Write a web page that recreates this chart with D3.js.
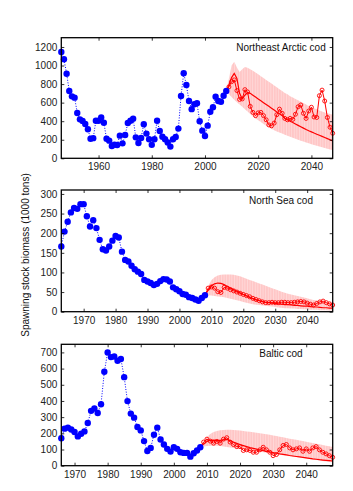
<!DOCTYPE html>
<html lang="en">
<head>
    <meta charset="UTF-8">
    <script src="https://cdn.jsdelivr.net/npm/d3@7"></script>
    <title>Cod spawning stock biomass</title>
    <style>
        body { margin: 0; background: #fff; }
        text { font-family: 'Liberation Sans', Arial, sans-serif; }
        .tick text { font-size: 10px; fill: #222; }
        .tick line { stroke: #000; stroke-width: 0.8; }
    </style>
</head>
<body>
<script>
    const width = 353, height = 491;

    // ---- Northeast Arctic cod ----
    const neaHistStart = 1946;
    const neaHist = [1146,1067,912,725,668,654,488,420,403,370,313,210,217,405,405,440,383,210,190,133,
        147,143,244,161,251,381,405,427,226,165,220,367,266,206,145,206,405,294,233,206,
        170,126,206,230,320,671,916,790,617,530,583,593,400,298,240,352,502,550,664,617,
        610,675,725];
    const neaProj = [725,770,826,845,730,635,640,740,715,560,495,460,490,495,460,415,360,350,380,470,
        530,485,430,415,430,420,475,555,575,485,430,510,550,445,440,675,735,617,440,335,270];
    const neaMedian = [725,790,870,915,860,700,640,680,710,700,680,660,640,620,600,580,560,540,520,500,
        480,460,430,415,400,385,370,355,340,325,310,297,285,272,260,248,236,224,212,200,188];
    const neaUpper = [725,860,1000,1040,980,930,960,985,975,960,945,925,905,885,865,845,825,805,785,765,
        745,725,705,690,670,655,640,625,610,595,580,565,550,540,528,515,505,495,485,478,470];
    const neaLower = [725,690,660,630,605,580,555,530,505,478,450,430,410,390,370,352,335,318,302,290,
        278,266,255,244,233,222,211,200,190,180,170,161,152,143,135,127,120,112,104,96,89];

    // ---- North Sea cod ----
    const nsHistStart = 1963;
    const nsHist = [166,204,229,253,264,262,274,274,243,217,233,213,183,159,156,166,181,193,189,153,
        132,128,117,108,102,96,81,77,73,68,71,78,83,82,77,62,57,52,45,43,
        37,35,31,28,35,42];
    const nsProj = [42,60,63,60,51,49,62,60,56,53,50,47,44,41,38,34,31,28,25,23,
        23,24,23,23,24,24,23,23,24,25,26,25,22,19,17,21,25,27,23,20,17];
    const nsMedian = [42,55,66,71,73,72,69,64,60,56,52,48,44,40,36,33,30,28,26,24,
        23,22,21,20,19,18,18,17,16,16,15,14,14,13,12,12,11,10,10,9,9];
    const nsUpper = [42,65,80,88,92,94,95,95,95,94,92,90,87,84,81,78,75,72,69,66,
        63,60,57,54,51,48,46,44,42,40,38,36,34,32,30,29,27,26,24,23,22];
    const nsLower = [42,42,41,40,39,38,37,35,33,31,29,27,25,23,21,19,18,17,16,15,
        14,13,12,11,10,9,9,8,8,7,7,6,6,5,5,5,4,4,4,3,3];

    // ---- Baltic cod ----
    const balHistStart = 1966;
    const balHist = [170,229,235,224,208,181,197,212,264,339,353,326,380,580,700,671,675,648,659,547,
        399,322,297,239,218,152,91,110,191,235,162,131,104,87,114,104,83,79,79,56,
        77,94,114];
    const balProj = [114,146,164,152,139,150,139,164,173,146,131,118,118,94,98,94,83,83,98,114,
        98,83,62,69,98,125,131,110,98,104,110,89,104,89,110,118,98,83,73,62,52];
    const balMedian = [114,135,150,157,158,157,157,160,162,155,146,138,130,124,118,112,107,102,97,93,
        89,85,81,77,73,70,67,63,60,57,54,51,48,45,42,40,37,35,33,31,29];
    const balUpper = [114,150,178,196,208,215,219,221,222,222,221,219,217,215,212,209,206,203,200,197,
        194,191,187,183,179,175,171,167,163,160,156,152,148,144,140,136,132,128,124,120,116];
    const balLower = [114,118,122,124,124,123,121,119,116,113,110,107,104,101,98,95,92,89,86,83,
        80,77,74,71,68,65,62,59,56,53,50,47,44,41,38,35,32,29,26,23,22];

    const projStart = 2008;

    const neaXTicks = [1960, 1980, 2000, 2020, 2040];
    const neaYTicks = [0, 200, 400, 600, 800, 1000, 1200];
    const nsXTicks = [1970, 1980, 1990, 2000, 2010, 2020, 2030, 2040];
    const nsYTicks = [0, 50, 100, 150, 200, 250, 300];
    const balXTicks = [1970, 1980, 1990, 2000, 2010, 2020, 2030, 2040];
    const balYTicks = [0, 100, 200, 300, 400, 500, 600, 700];

    const svg = d3.select("body").append("svg")
        .attr("width", width).attr("height", height);

    // faint vertical hatching inside the uncertainty band
    const pat = svg.append("defs").append("pattern")
        .attr("id", "band").attr("patternUnits", "userSpaceOnUse")
        .attr("width", 2.6).attr("height", 10);
    pat.append("rect").attr("width", 2.6).attr("height", 10).attr("fill", "#ffc6c6");
    pat.append("line").attr("x1", 0.5).attr("x2", 0.5).attr("y1", 0).attr("y2", 10)
        .attr("stroke", "#ffdcdc").attr("stroke-width", 0.8);

    function drawPanel(p) {
        const x = d3.scaleLinear().domain(p.xDomain).range([61.3, 332.7]);
        const y = d3.scaleLinear().domain(p.yDomain).range([p.bottom, p.top]);
        const g = svg.append("g");

        const hist = p.hist.map((v, i) => ({yr: p.histStart + i, v}));
        const proj = p.proj.map((v, i) => ({yr: projStart + i, v}));
        const band = p.upper.map((v, i) => ({yr: projStart + i, hi: v, lo: p.lower[i]}));
        const med = p.median.map((v, i) => ({yr: projStart + i, v}));

        g.append("path").datum(band)
            .attr("fill", "url(#band)")
            .attr("d", d3.area().x(d => x(d.yr)).y0(d => y(d.lo)).y1(d => y(d.hi)));

        const line = d3.line().x(d => x(d.yr)).y(d => y(d.v));

        g.append("path").datum(med)
            .attr("fill", "none").attr("stroke", "#f00").attr("stroke-width", 1.2)
            .attr("d", line);

        g.append("path").datum(proj)
            .attr("fill", "none").attr("stroke", "#f00").attr("stroke-width", 1)
            .attr("d", line);
        g.selectAll(".proj").data(proj).enter().append("circle")
            .attr("cx", d => x(d.yr)).attr("cy", d => y(d.v)).attr("r", 2)
            .attr("fill", "none").attr("stroke", "#f00").attr("stroke-width", 0.9);

        g.append("path").datum(hist)
            .attr("fill", "none").attr("stroke", "#00f").attr("stroke-width", 1)
            .attr("stroke-dasharray", "1,1.6")
            .attr("d", line);
        g.selectAll(".hist").data(hist).enter().append("circle")
            .attr("cx", d => x(d.yr)).attr("cy", d => y(d.v)).attr("r", 3.2)
            .attr("fill", "#00f");

        // axes: inward ticks on all four sides, labels only bottom/left
        const axB = g.append("g").attr("transform", `translate(0,${p.bottom})`)
            .call(d3.axisBottom(x).tickValues(p.xTicks).tickFormat(d3.format("d"))
                .tickSizeInner(-3).tickSizeOuter(0).tickPadding(5));
        const axT = g.append("g").attr("transform", `translate(0,${p.top})`)
            .call(d3.axisTop(x).tickValues(p.xTicks).tickFormat("")
                .tickSizeInner(-3).tickSizeOuter(0));
        const axL = g.append("g").attr("transform", "translate(61.3,0)")
            .call(d3.axisLeft(y).tickValues(p.yTicks).tickFormat(d3.format("d"))
                .tickSizeInner(-3).tickSizeOuter(0).tickPadding(4));
        const axR = g.append("g").attr("transform", "translate(332.7,0)")
            .call(d3.axisRight(y).tickValues(p.yTicks).tickFormat("")
                .tickSizeInner(-3).tickSizeOuter(0));
        [axB, axT, axL, axR].forEach(a => a.select(".domain").remove());

        g.append("rect")
            .attr("x", 61.3).attr("y", p.top)
            .attr("width", 332.7 - 61.3).attr("height", p.bottom - p.top)
            .attr("fill", "none").attr("stroke", "#000").attr("stroke-width", 1.3);

        g.append("text")
            .attr("x", 281).attr("y", p.top + p.titleDy)
            .attr("text-anchor", "middle")
            .style("font-size", "10px").attr("fill", "#111")
            .text(p.title);
    }

    drawPanel({title: "Northeast Arctic cod", top: 37.7, bottom: 158.3, titleDy: 13,
        xDomain: [1946, 2048], yDomain: [0, 1300], xTicks: neaXTicks, yTicks: neaYTicks,
        histStart: neaHistStart, hist: neaHist, proj: neaProj, median: neaMedian,
        upper: neaUpper, lower: neaLower});

    drawPanel({title: "North Sea cod", top: 190, bottom: 311.7, titleDy: 14,
        xDomain: [1963, 2048], yDomain: [0, 310], xTicks: nsXTicks, yTicks: nsYTicks,
        histStart: nsHistStart, hist: nsHist, proj: nsProj, median: nsMedian,
        upper: nsUpper, lower: nsLower});

    drawPanel({title: "Baltic cod", top: 344.3, bottom: 465.7, titleDy: 13,
        xDomain: [1966, 2048], yDomain: [0, 750], xTicks: balXTicks, yTicks: balYTicks,
        histStart: balHistStart, hist: balHist, proj: balProj, median: balMedian,
        upper: balUpper, lower: balLower});

    svg.append("text")
        .attr("transform", "translate(29,255) rotate(-90)")
        .attr("text-anchor", "middle")
        .style("font-size", "10px").attr("fill", "#111")
        .text("Spawning stock biomass (1000 tons)");
</script>
</body>
</html>
